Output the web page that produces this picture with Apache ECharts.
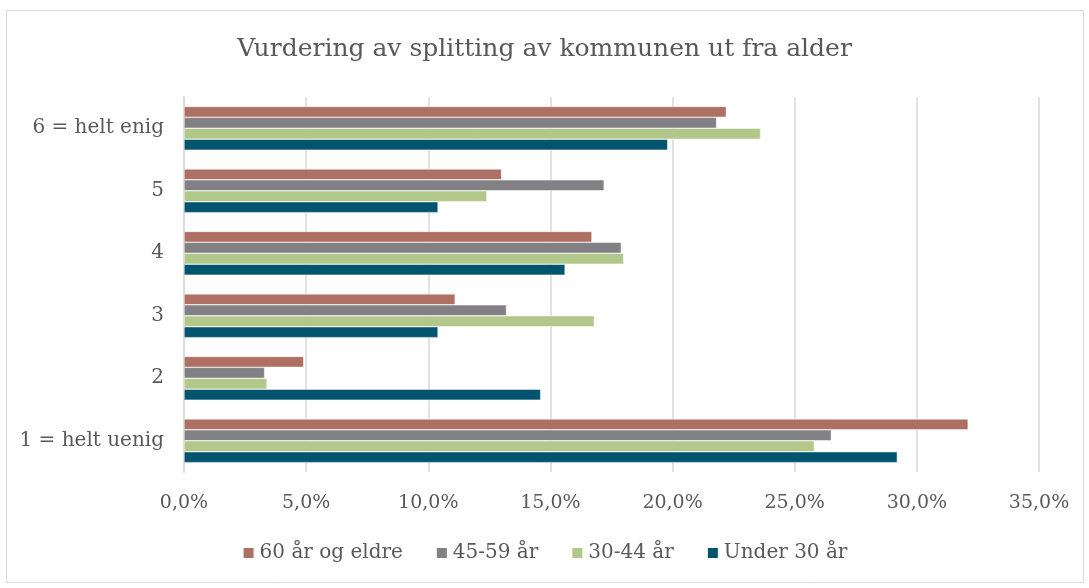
<!DOCTYPE html>
<html>
<head>
<meta charset="utf-8">
<script src="https://cdn.jsdelivr.net/npm/echarts@6/dist/echarts.min.js"></script>
<style>
  html, body { margin: 0; padding: 0; background: #fff; }
  #main { width: 1089px; height: 588px; }
</style>
</head>
<body>
<div id="main"></div>
<script>
// kategorier, nederst først (ECharts legger første kategori nederst)
var categories = ['1 = helt uenig', '2', '3', '4', '5', '6 = helt enig'];

var age60plus = [32.1, 4.9, 11.1, 16.7, 13.0, 22.2];
var age45to59 = [26.5, 3.3, 13.2, 17.9, 17.2, 21.8];
var age30to44 = [25.8, 3.4, 16.8, 18.0, 12.4, 23.6];
var under30 = [29.2, 14.6, 10.4, 15.6, 10.4, 19.8];

var legendNames = ['60 år og eldre', '45-59 år', '30-44 år', 'Under 30 år'];

var fontFamily = '"DejaVu Serif", "Liberation Serif", serif';
var textColor = '#595959';

function pct(v) {
  return v.toFixed(1).replace('.', ',') + '%';
}

var chartDom = document.getElementById('main');
var myChart = echarts.init(chartDom);

var option = {
  animation: false,
  graphic: [{
    type: 'rect',
    shape: { x: 6.5, y: 10.5, width: 1077, height: 572 },
    style: { fill: 'none', stroke: '#d9d9d9', lineWidth: 1 },
    silent: true
  }],
  title: {
    text: 'Vurdering av splitting av kommunen ut fra alder',
    left: 'center',
    top: 32,
    textStyle: { fontFamily: fontFamily, fontSize: 25, fontWeight: 'normal', color: textColor }
  },
  legend: {
    data: legendNames,
    bottom: 20,
    left: 'center',
    icon: 'rect',
    itemWidth: 12,
    itemHeight: 12,
    itemGap: 32,
    textStyle: { fontFamily: fontFamily, fontSize: 20, color: textColor }
  },
  grid: { left: 184, right: 50, top: 97, bottom: 116 },
  xAxis: {
    type: 'value',
    min: 0,
    max: 35,
    interval: 5,
    axisLine: { show: false },
    axisTick: { show: false },
    axisLabel: {
      formatter: pct,
      margin: 22,
      fontFamily: fontFamily, fontSize: 19, color: textColor
    },
    splitLine: { lineStyle: { color: '#d9d9d9', width: 1.5 } }
  },
  yAxis: {
    type: 'category',
    data: categories,
    axisLine: { lineStyle: { color: '#d9d9d9', width: 1.5 } },
    axisTick: { show: false },
    axisLabel: { margin: 20, fontFamily: fontFamily, fontSize: 20, color: textColor }
  },
  series: [
    { name: '60 år og eldre', type: 'bar', data: age60plus, barGap: '0%', barCategoryGap: '30%',
      itemStyle: { color: '#af7064', borderColor: '#ffffff', borderWidth: 0.5 } },
    { name: '45-59 år', type: 'bar', data: age45to59,
      itemStyle: { color: '#808085', borderColor: '#ffffff', borderWidth: 0.5 } },
    { name: '30-44 år', type: 'bar', data: age30to44,
      itemStyle: { color: '#b2c78a', borderColor: '#ffffff', borderWidth: 0.5 } },
    { name: 'Under 30 år', type: 'bar', data: under30,
      itemStyle: { color: '#00546e', borderColor: '#ffffff', borderWidth: 0.5 } }
  ]
};

myChart.setOption(option);
</script>
</body>
</html>
